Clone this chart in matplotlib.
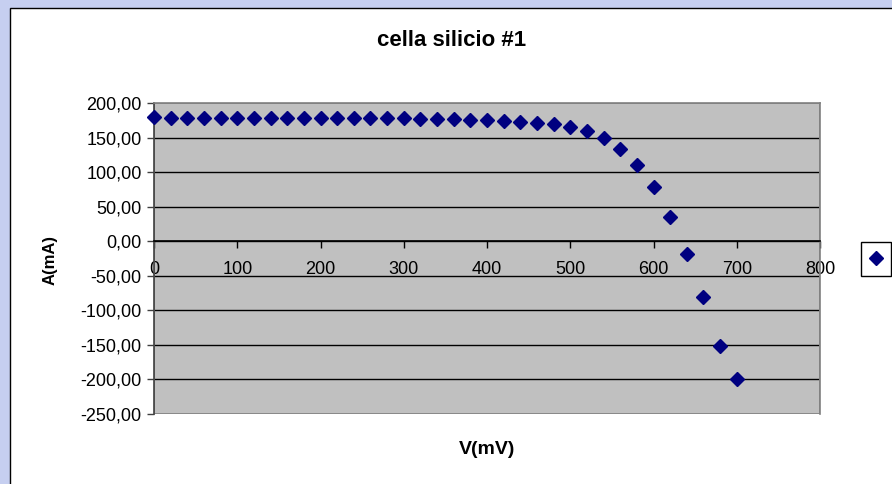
import matplotlib
matplotlib.use("Agg")
import matplotlib.pyplot as plt
from matplotlib.patches import Rectangle
from matplotlib.ticker import FuncFormatter

# --- DATI ---
tensione_mV = [0, 20, 40, 60, 80, 100, 120, 140, 160, 180, 200, 220, 240, 260,
               280, 300, 320, 340, 360, 380, 400, 420, 440, 460, 480, 500, 520,
               540, 560, 580, 600, 620, 640, 660, 680, 700]
corrente_mA = [180, 178, 178, 178, 178, 178, 178, 178, 178, 178, 178, 178, 178,
               178, 178, 178, 177, 177, 177, 175, 175, 174, 172, 171, 169, 165,
               159, 149, 134, 111, 78, 35, -18, -81, -152, -200]
x_ticks = [0, 100, 200, 300, 400, 500, 600, 700, 800]
y_ticks = [-250, -200, -150, -100, -50, 0, 50, 100, 150, 200]

plt.rcParams['font.family'] = ['Liberation Sans', 'DejaVu Sans']

fig = plt.figure(figsize=(8.92, 4.84), dpi=100)
fig.patch.set_facecolor('#c6cff0')

# riquadro bianco del grafico
fig.patches.append(Rectangle((9.5 / 892, -0.1), 1.2, 1.1 - 8 / 484,
                             transform=fig.transFigure, facecolor='white',
                             edgecolor='black', linewidth=1, zorder=-5))

ax = fig.add_axes([154 / 892, 1 - 414 / 484, 666 / 892, 311 / 484])
ax.set_facecolor('#c0c0c0')

ax.set_xlim(0, 800)
ax.set_ylim(-250, 200)
ax.set_xticks(x_ticks)
ax.set_yticks(y_ticks)
ax.yaxis.set_major_formatter(FuncFormatter(lambda v, p: f"{v:.2f}".replace('.', ',')))

for v in y_ticks[1:-1]:
    ax.axhline(v, color='black', linewidth=1, zorder=1)

ax.spines['bottom'].set_position(('data', 0))
ax.spines['bottom'].set_color('black')
ax.spines['left'].set_color('#404040')
ax.spines['top'].set_color('#808080')
ax.spines['right'].set_color('#808080')
for s in ax.spines.values():
    s.set_linewidth(1.2)
    s.set_zorder(2)

# bordo inferiore dell'area del grafico
ax.add_patch(Rectangle((0, 0), 1, 1, transform=ax.transAxes, fill=False,
                       edgecolor='#808080', linewidth=1.2, zorder=2))

ax.tick_params(axis='x', direction='out', length=5, width=1, colors='black',
               labelsize=13, pad=9)
ax.tick_params(axis='y', direction='out', length=5, width=1, color='#404040',
                labelcolor='black', labelsize=13, pad=4)

punti, = ax.plot(tensione_mV, corrente_mA, linestyle='none', marker='D',
                 markersize=7, color='#000080', zorder=3, clip_on=False)

fig.text(452 / 892, 1 - 40 / 484, "cella silicio #1", ha='center', va='center',
         fontsize=16, fontweight='bold')
fig.text(487 / 892, 1 - 450 / 484, "V(mV)", ha='center', va='center',
         fontsize=14, fontweight='bold')
fig.text(50 / 892, 1 - 260 / 484, "A(mA)", ha='center', va='center',
         fontsize=12, fontweight='bold', rotation=90)

leg = fig.legend([punti], [''], loc='center', bbox_to_anchor=(876 / 892, 1 - 259 / 484),
                 handlelength=0.8, handletextpad=0, borderpad=0.7, fancybox=False,
                 edgecolor='black', framealpha=1)
leg.get_frame().set_linewidth(1)

fig.savefig("out.png", dpi=100, facecolor=fig.get_facecolor())
